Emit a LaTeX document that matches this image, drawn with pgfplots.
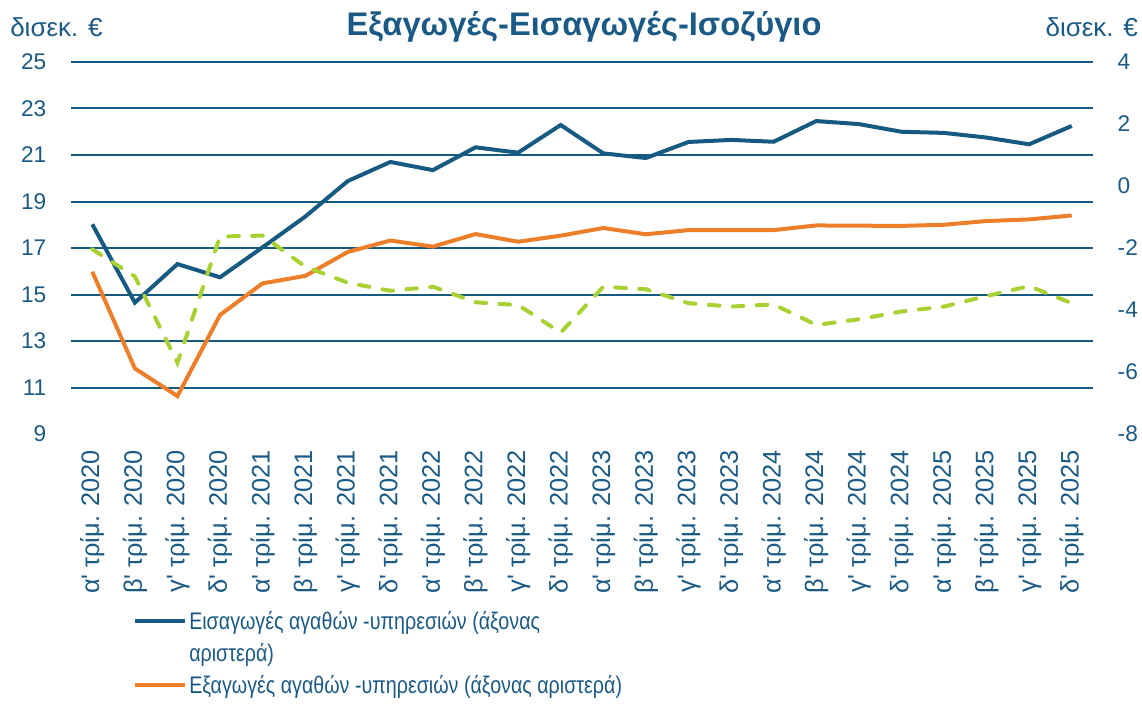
\documentclass[border=0pt]{standalone}
\usepackage{fontspec}
\setmainfont{Liberation Sans}
\newfontfamily\narrowfont[FakeStretch=0.82]{Liberation Sans}
\usepackage{pgfplots}
\usepackage{pgfplotstable}
\pgfplotsset{compat=1.18}
\definecolor{txtblue}{HTML}{1B5A85}
\definecolor{impblue}{HTML}{165A82}
\definecolor{exporange}{HTML}{EE7F2A}
\definecolor{balgreen}{HTML}{A9D134}
\newcommand\q{\textquotesingle}

% quarterly data, bn EUR: imports, exports (left axis), balance (right axis)
\pgfplotstableread{
x  imp    exp    bal
0  18.02  15.98  -2.04
1  14.65  11.82  -2.92
2  16.31  10.63  -5.70
3  15.74  14.12  -1.63
4  17.03  15.48  -1.60
5  18.35  15.80  -2.60
6  19.88  16.83  -3.12
7  20.70  17.32  -3.38
8  20.35  17.06  -3.25
9  21.33  17.60  -3.75
10 21.10  17.27  -3.84
11 22.29  17.53  -4.73
12 21.07  17.86  -3.25
13 20.87  17.59  -3.33
14 21.56  17.77  -3.78
15 21.65  17.77  -3.89
16 21.57  17.77  -3.82
17 22.46  17.97  -4.48
18 22.33  17.96  -4.30
19 22.00  17.95  -4.05
20 21.95  18.00  -3.89
21 21.75  18.16  -3.55
22 21.46  18.23  -3.23
23 22.25  18.40  -3.78
}\data

\begin{document}
\begin{tikzpicture}[x=1pt,y=1pt]
\useasboundingbox (0,0) rectangle (856.5,528);
\pgfplotsset{every axis/.append style={
  width=766.5pt,height=279pt,scale only axis,
  at={(53.25pt,202.5pt)},anchor=south west,
  xmin=-0.5,xmax=23.5,
  axis line style={draw=none},major tick length=0pt,
  /pgf/number format/assume math mode=true,
  tick label style={font=\fontsize{17}{20}\selectfont,text=txtblue}}}
\begin{axis}[
  ymin=9,ymax=25,ytick={11,13,...,25},
  extra y ticks={9},extra y tick style={grid=none},
  ymajorgrids,grid style={draw=impblue,line width=1.5pt},
  xtick={0,...,23},
  xticklabels={α\q{} τρίμ. 2020,β\q{} τρίμ. 2020,γ\q{} τρίμ. 2020,δ\q{} τρίμ. 2020,
    α\q{} τρίμ. 2021,β\q{} τρίμ. 2021,γ\q{} τρίμ. 2021,δ\q{} τρίμ. 2021,
    α\q{} τρίμ. 2022,β\q{} τρίμ. 2022,γ\q{} τρίμ. 2022,δ\q{} τρίμ. 2022,
    α\q{} τρίμ. 2023,β\q{} τρίμ. 2023,γ\q{} τρίμ. 2023,δ\q{} τρίμ. 2023,
    α\q{} τρίμ. 2024,β\q{} τρίμ. 2024,γ\q{} τρίμ. 2024,δ\q{} τρίμ. 2024,
    α\q{} τρίμ. 2025,β\q{} τρίμ. 2025,γ\q{} τρίμ. 2025,δ\q{} τρίμ. 2025},
  xticklabel style={rotate=90,anchor=east,xshift=-8.5pt,font=\fontsize{19}{20}\selectfont},
  yticklabel shift=15pt,
  yticklabel style={anchor=east},
  legend style={at={(axis description cs:0.06,-0.468)},anchor=north west,
    draw=none,fill=none,inner sep=0pt,row sep=5pt,
    font=\narrowfont\fontsize{18}{20}\selectfont,text=txtblue,
    cells={anchor=west}},
  legend image code/.code={\draw[#1] (0pt,0pt) -- (37.5pt,0pt);},
]
\addplot[impblue,line width=3pt] table[x=x,y=imp]{\data};
\addlegendentry{Εισαγωγές αγαθών -υπηρεσιών (άξονας}
\addlegendimage{empty legend}
\addlegendentry{αριστερά)}
\addplot[exporange,line width=3pt] table[x=x,y=exp]{\data};
\addlegendentry{Εξαγωγές αγαθών -υπηρεσιών (άξονας αριστερά)}
\end{axis}
\begin{axis}[
  axis y line*=right,axis x line=none,
  ymin=-8,ymax=4,ytick={-8,-6,...,4},
  yticklabel pos=right,
  yticklabel shift=15pt,
  yticklabel style={anchor=west},
]
\addplot[balgreen,line width=3pt,line cap=round,dash pattern=on 8pt off 10pt] table[x=x,y=bal]{\data};
\end{axis}
\node[font=\bfseries\fontsize{24.5}{28}\selectfont,text=txtblue] at (438,507.75) {Εξαγωγές-Εισαγωγές-Ισοζύγιο};
\node[anchor=west,inner sep=0pt,font=\fontsize{19.5}{22}\selectfont,text=txtblue] at (7.5,507.75) {δισεκ. €};
\node[anchor=east,inner sep=0pt,font=\fontsize{19.5}{22}\selectfont,text=txtblue] at (853.5,507.75) {δισεκ. €};
\end{tikzpicture}
\end{document}
